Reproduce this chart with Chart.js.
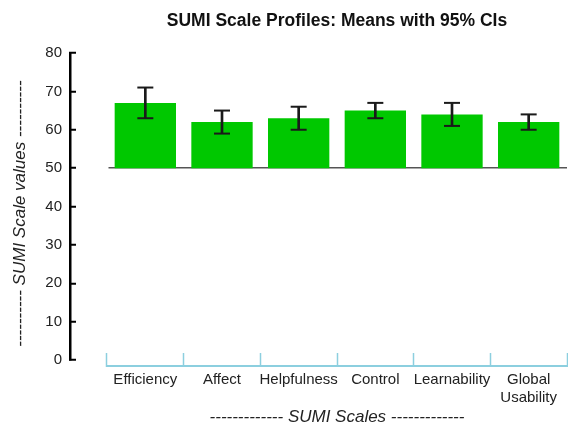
<!DOCTYPE html>
<html>
<head>
<meta charset="utf-8">
<script src="https://cdn.jsdelivr.net/npm/chart.js"></script>
<style>
  html, body { margin: 0; padding: 0; background: #fff; }
  #wrap { width: 568px; height: 423px; position: relative; }
</style>
</head>
<body>
<div id="wrap"><canvas id="sumiChart"></canvas></div>
<script>
// SUMI scales and their means with 95% confidence limits
const scaleNames = ['Efficiency', 'Affect', 'Helpfulness', 'Control', 'Learnability', ['Global', 'Usability']];
const means = [67, 62, 63, 65, 64, 62];
const ciLow = [63, 59, 60, 63, 61, 60];
const ciHigh = [71, 65, 66, 67, 67, 64];
const baseValue = 50;
const yMin = 0;
const yMax = 80;
const yStep = 10;

const fontFamily = "'Liberation Sans', Arial, sans-serif";
const green = '#00c800';
const barEdge = '#1a1a1a';
const axisBlue = '#8ccfdf';

const ctx = document.getElementById('sumiChart').getContext('2d');
const sumiChart = new Chart(ctx, {
  type: 'bar',
  data: {
    labels: scaleNames,
    datasets: [
      {
        label: 'Mean',
        data: means.map(m => [baseValue, m]),
        backgroundColor: green,
        borderWidth: 0,
        barPercentage: 0.8,
        categoryPercentage: 1,
        grouped: false,
        order: 3
      },
      {
        label: '95% CI',
        data: ciLow.map((lo, i) => [lo, ciHigh[i]]),
        backgroundColor: barEdge,
        barThickness: 2,
        grouped: false,
        order: 2
      },
      {
        type: 'line',
        label: 'upper',
        data: ciHigh,
        showLine: false,
        pointStyle: 'line',
        pointRadius: 8,
        pointBorderWidth: 2,
        borderColor: barEdge,
        order: 1
      },
      {
        type: 'line',
        label: 'lower',
        data: ciLow,
        showLine: false,
        pointStyle: 'line',
        pointRadius: 8,
        pointBorderWidth: 2,
        borderColor: barEdge,
        order: 1
      }
    ]
  },
  options: {
    responsive: true,
    maintainAspectRatio: false,
    animation: false,
    layout: {
      autoPadding: false,
      padding: { left: 0, right: 1, top: 0, bottom: 0 }
    },
    plugins: {
      legend: { display: false },
      tooltip: { enabled: false },
      title: {
        display: true,
        text: 'SUMI Scale Profiles: Means with 95% CIs',
        fullSize: false,
        color: '#111',
        font: { family: fontFamily, size: 17.5, weight: 'bold' },
        padding: { top: 11, bottom: 21 }
      }
    },
    scales: {
      x: {
        type: 'category',
        position: 'bottom',
        weight: 1,
        offset: true,
        border: { display: true, color: axisBlue, width: 2 },
        grid: {
          offset: true,
          drawOnChartArea: false,
          color: axisBlue,
          tickColor: axisBlue,
          tickLength: -13,
          tickWidth: 1.5
        },
        ticks: {
          autoSkip: false,
          maxRotation: 0,
          padding: 17.5,
          color: '#222',
          font: { family: fontFamily, size: 15 }
        },
        title: {
          display: true,
          text: '------------- SUMI Scales -------------',
          color: '#222',
          font: { family: fontFamily, size: 17, style: 'italic' },
          padding: { top: 0, bottom: -4 }
        },
        afterFit: function(scale) {
          scale.height = 57;
          scale.paddingLeft = 0;
          scale.paddingRight = 0;
        }
      },
      xs: {
        type: 'linear',
        position: 'bottom',
        weight: 0,
        display: true,
        border: { display: false },
        grid: { display: false },
        ticks: { display: false },
        afterFit: function(scale) { scale.height = 6; }
      },
      y: {
        type: 'linear',
        position: 'left',
        weight: 1,
        z: 1,
        min: yMin,
        max: yMax,
        border: { display: true, color: '#000', width: 2.5 },
        grid: {
          drawOnChartArea: true,
          color: c => (c.tick && c.tick.value === baseValue) ? '#555' : 'rgba(0,0,0,0)',
          lineWidth: 1.5,
          tickColor: '#000',
          tickLength: -6,
          tickWidth: 2
        },
        ticks: {
          stepSize: yStep,
          padding: 14,
          color: '#222',
          font: { family: fontFamily, size: 15 }
        },
        title: {
          display: true,
          text: '---------- SUMI Scale values ----------   ',
          color: '#222',
          font: { family: fontFamily, size: 17, style: 'italic' },
          padding: { top: 10, bottom: 0 }
        },
        afterFit: function(scale) { scale.width = 70; }
      },
      ys: {
        type: 'linear',
        position: 'left',
        weight: 0,
        display: true,
        border: { display: false },
        grid: { display: false },
        ticks: { display: false },
        afterFit: function(scale) { scale.width = 37; }
      }
    }
  }
});
</script>
</body>
</html>
